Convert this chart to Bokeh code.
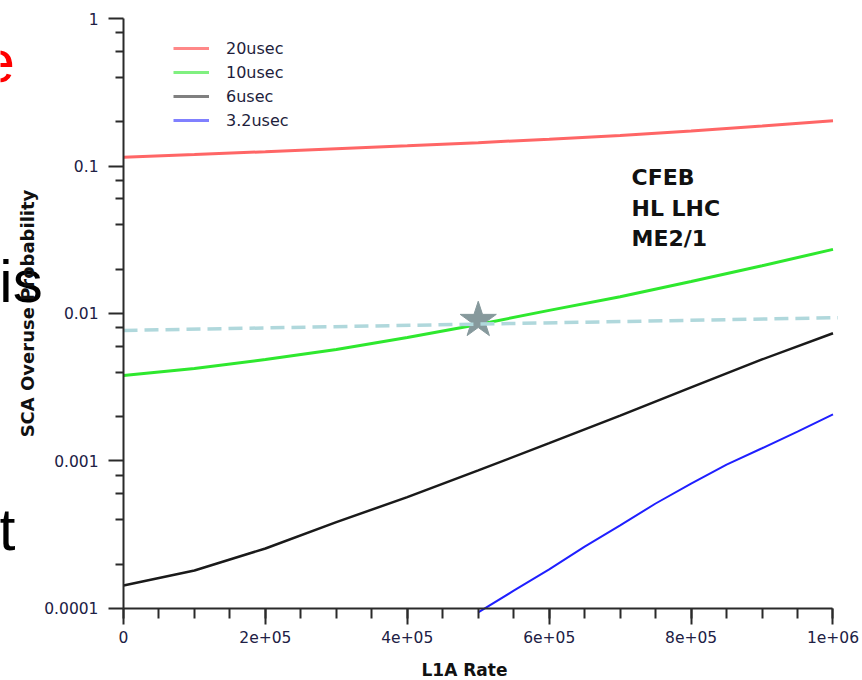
from bokeh.plotting import figure
from bokeh.models import FixedTicker, Legend, LegendItem, Range1d
from bokeh.core.properties import value
from bokeh.embed import file_html
from bokeh.resources import INLINE

# ---------------- data ----------------
rate = [0, 1e5, 2e5, 3e5, 4e5, 5e5, 6e5, 7e5, 8e5, 9e5, 1e6]
prob_20us = [0.1147, 0.1197, 0.125, 0.131, 0.137, 0.144, 0.152, 0.161, 0.173, 0.187, 0.203]
prob_10us = [3.80e-3, 4.24e-3, 4.88e-3, 5.70e-3, 6.87e-3, 8.42e-3, 1.05e-2, 1.30e-2, 1.65e-2, 2.11e-2, 2.72e-2]
prob_6us = [1.43e-4, 1.81e-4, 2.55e-4, 3.85e-4, 5.69e-4, 8.63e-4, 1.32e-3, 2.03e-3, 3.16e-3, 4.88e-3, 7.35e-3]
rate_32 = [5e5, 5.5e5, 6e5, 6.5e5, 7e5, 7.5e5, 8e5, 8.5e5, 9e5, 9.5e5, 1e6]
prob_32us = [9.4e-5, 1.32e-4, 1.84e-4, 2.63e-4, 3.66e-4, 5.15e-4, 7.03e-4, 9.46e-4, 1.22e-3, 1.58e-3, 2.07e-3]
limit_rate = [0, 1.007e6]
limit_prob = [7.67e-3, 9.36e-3]
star_rate = [5e5]
star_prob = [9.0e-3]

series_labels = ["20usec", "10usec", "6usec", "3.2usec"]
x_tick_values = [0, 2e5, 4e5, 6e5, 8e5, 1e6]
x_tick_labels = ["0", "2e+05", "4e+05", "6e+05", "8e+05", "1e+06"]
x_minor_values = [i * 5e4 for i in range(21)]
y_tick_values = [1e-4, 1e-3, 1e-2, 1e-1, 1]
y_tick_labels = ["0.0001", "0.001", "0.01", "0.1", "1"]
y_minor_values = [k * 10.0 ** e for e in range(-4, 0) for k in (2, 4, 6, 8)]
note_lines = ["CFEB", "HL LHC", "ME2/1"]
note_x = [7.16e5, 7.16e5, 7.16e5]
note_y = [0.0836, 0.0518, 0.0320]
x_title = ["L1A Rate"]
x_title_x = [4.806e5]
x_title_y = [3.80e-5]
# slide text fragments in data coordinates
frag_text = ["e", "is", "t"]
frag_x = [-2.0e5, -1.75e5, -1.76e5]
frag_y = [0.511, 0.01648, 3.43e-4]

# ---------------- figure ----------------
FONT = "DejaVu Sans"
p = figure(width=860, height=678, y_axis_type="log",
           x_range=Range1d(-1.7336e5, 1.03876e6),
           y_range=Range1d(3.352e-5, 1.3246),
           output_backend="svg", toolbar_location=None,
           min_border_left=0, min_border_right=0,
           min_border_top=0, min_border_bottom=0)
p.outline_line_color = None
p.grid.visible = False
p.background_fill_color = "white"
p.border_fill_color = "white"

# axes (drawn at data location, inside the frame)
p.xaxis.ticker = FixedTicker(ticks=x_tick_values, minor_ticks=x_minor_values)
p.xaxis.major_label_overrides = {v: l for v, l in zip(x_tick_values, x_tick_labels)}
p.xaxis.bounds = (0, 1e6)
p.xaxis.fixed_location = 1e-4
p.yaxis.ticker = FixedTicker(ticks=y_tick_values, minor_ticks=y_minor_values)
p.yaxis.major_label_overrides = {v: l for v, l in zip(y_tick_values, y_tick_labels)}
p.yaxis.bounds = (1e-4, 1)
p.yaxis.fixed_location = 0

for ax in (p.xaxis, p.yaxis):
    ax.axis_line_color = "#2a2a2a"
    ax.axis_line_width = 2
    ax.major_tick_line_color = "#2a2a2a"
    ax.major_tick_line_width = 2
    ax.minor_tick_line_color = "#2a2a2a"
    ax.minor_tick_line_width = 2
    ax.major_tick_in = 0
    ax.minor_tick_in = 0
    ax.major_label_text_font = FONT
    ax.major_label_text_font_size = "15.5px"
    ax.major_label_text_color = "#202044"
    ax.axis_label_text_font = FONT
    ax.axis_label_text_font_style = "bold"
    ax.axis_label_text_color = "#111111"

p.xaxis.major_tick_out = 16
p.xaxis.minor_tick_out = 10
p.xaxis.major_label_standoff = 7

p.yaxis.major_tick_out = 15
p.yaxis.minor_tick_out = 8
p.yaxis.major_label_standoff = 10
p.yaxis.axis_label = "SCA Overuse Probability"
p.yaxis.axis_label_text_font_size = "18px"
p.yaxis.axis_label_standoff = 3

# lines
p.line(rate, prob_20us, line_color="#ff6666", line_width=3)
p.line(rate, prob_10us, line_color="#2ee82e", line_width=3)
p.line(rate, prob_6us, line_color="#1a1a1a", line_width=2.5)
p.line(rate_32, prob_32us, line_color="#1f1fff", line_width=2)
p.scatter(star_rate, star_prob, marker="star", size=38,
          fill_color="#86999c", line_color="#86999c")
p.line(limit_rate, limit_prob, line_color="#b0d8dc", line_width=3.5, line_dash="14 7")

# legend with lighter swatches (single-point lines: draw nothing in the plot)
legend_colors = ["#ff8888", "#80f080", "#808080", "#8080ff"]
legend_src_y = [prob_20us, prob_10us, prob_6us, prob_32us]
items = []
for lab, col, ys in zip(series_labels, legend_colors, legend_src_y):
    r = p.line([rate[-1]], [ys[-1]], line_color=col, line_width=3)
    items.append(LegendItem(label=lab, renderers=[r]))
legend = Legend(items=items, location=(173, 548),
                border_line_color=None, background_fill_alpha=0,
                label_text_font=FONT, label_text_font_size="16px",
                label_text_color="#1e1e3c",
                glyph_width=36, glyph_height=20, label_height=20,
                label_standoff=17, spacing=4, padding=10, margin=0)
p.add_layout(legend)

# annotation text
p.text(note_x, note_y, text=note_lines, text_font=value(FONT),
       text_font_style="bold", text_font_size="22px", text_color="#111111",
       text_baseline="alphabetic", text_align="left")

# x axis title
p.text(x_title_x, x_title_y, text=x_title, text_font=value(FONT),
       text_font_style="bold", text_font_size="17px", text_color="#111111",
       text_baseline="alphabetic", text_align="center")

# slide-text fragments overlapping the chart
p.text(frag_x, frag_y, text=frag_text, text_font=value("Liberation Sans"),
       text_font_size="60px", text_color=["#ff0000", "#000000", "#000000"],
       text_baseline="alphabetic", text_align="left")

open("out.html", "w").write(file_html(p, INLINE))
